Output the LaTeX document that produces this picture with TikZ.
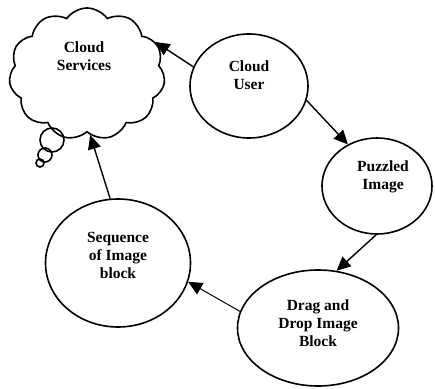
\documentclass[tikz,border=0pt]{standalone}
\usepackage{fontspec}
\setmainfont{Liberation Serif}
\usetikzlibrary{shapes.geometric,shapes.symbols,arrows.meta}
\tikzset{
  bubble/.style={draw, ellipse, line width=1.6pt, inner sep=0pt},
  lbl/.style={align=center, font=\bfseries\fontsize{15.5}{18}\selectfont},
  link/.style={-{Triangle[length=14pt,width=13pt]}, line width=1.4pt}
}
\begin{document}
\begin{tikzpicture}[x=1pt,y=1pt]
\useasboundingbox (0,0) rectangle (435,388);

\node [cloud, draw, line width=1.6pt, cloud puffs=11, cloud puff arc=110, aspect=1.1,
  minimum width=156pt, minimum height=132pt, inner sep=0pt,
  label={[lbl,yshift=18pt,xshift=-3pt]center:Cloud\\Services}] (cloud) at (87,314) {};
\node [circle, draw, line width=1.6pt, minimum size=24pt, inner sep=0pt] (puff1) at (52,248) {};
\node [circle, draw, line width=1.6pt, minimum size=14pt, inner sep=0pt] (puff2) at (45,233) {};
\node [circle, draw, line width=1.6pt, minimum size=8pt, inner sep=0pt] (puff3) at (40,225) {};

\node [bubble, minimum width=118pt, minimum height=104pt,
  label={[lbl,yshift=11pt]center:Cloud\\User}] (user) at (249,302) {};
\node [bubble, minimum width=110pt, minimum height=96pt,
  label={[lbl,yshift=9pt,xshift=6pt]center:Puzzled\\Image}] (puzzled) at (377,202) {};
\node [bubble, minimum width=161pt, minimum height=116pt,
  label={[lbl,yshift=5pt]center:Drag and\\Drop Image\\Block}] (drag) at (318,60) {};
\node [bubble, minimum width=145pt, minimum height=128pt,
  label={[lbl,yshift=8pt]center:Sequence\\of Image\\block}] (seq) at (118,125) {};

\draw [link] (user.161) -- (cloud.25);
\draw [link] (user.346) -- (puzzled.125);
\draw [link] (puzzled.269) -- (drag.72);
\draw [link, line width=1pt] (drag.168) -- (seq.345);
\draw [link] (seq.97) -- (cloud.273);
\end{tikzpicture}
\end{document}
